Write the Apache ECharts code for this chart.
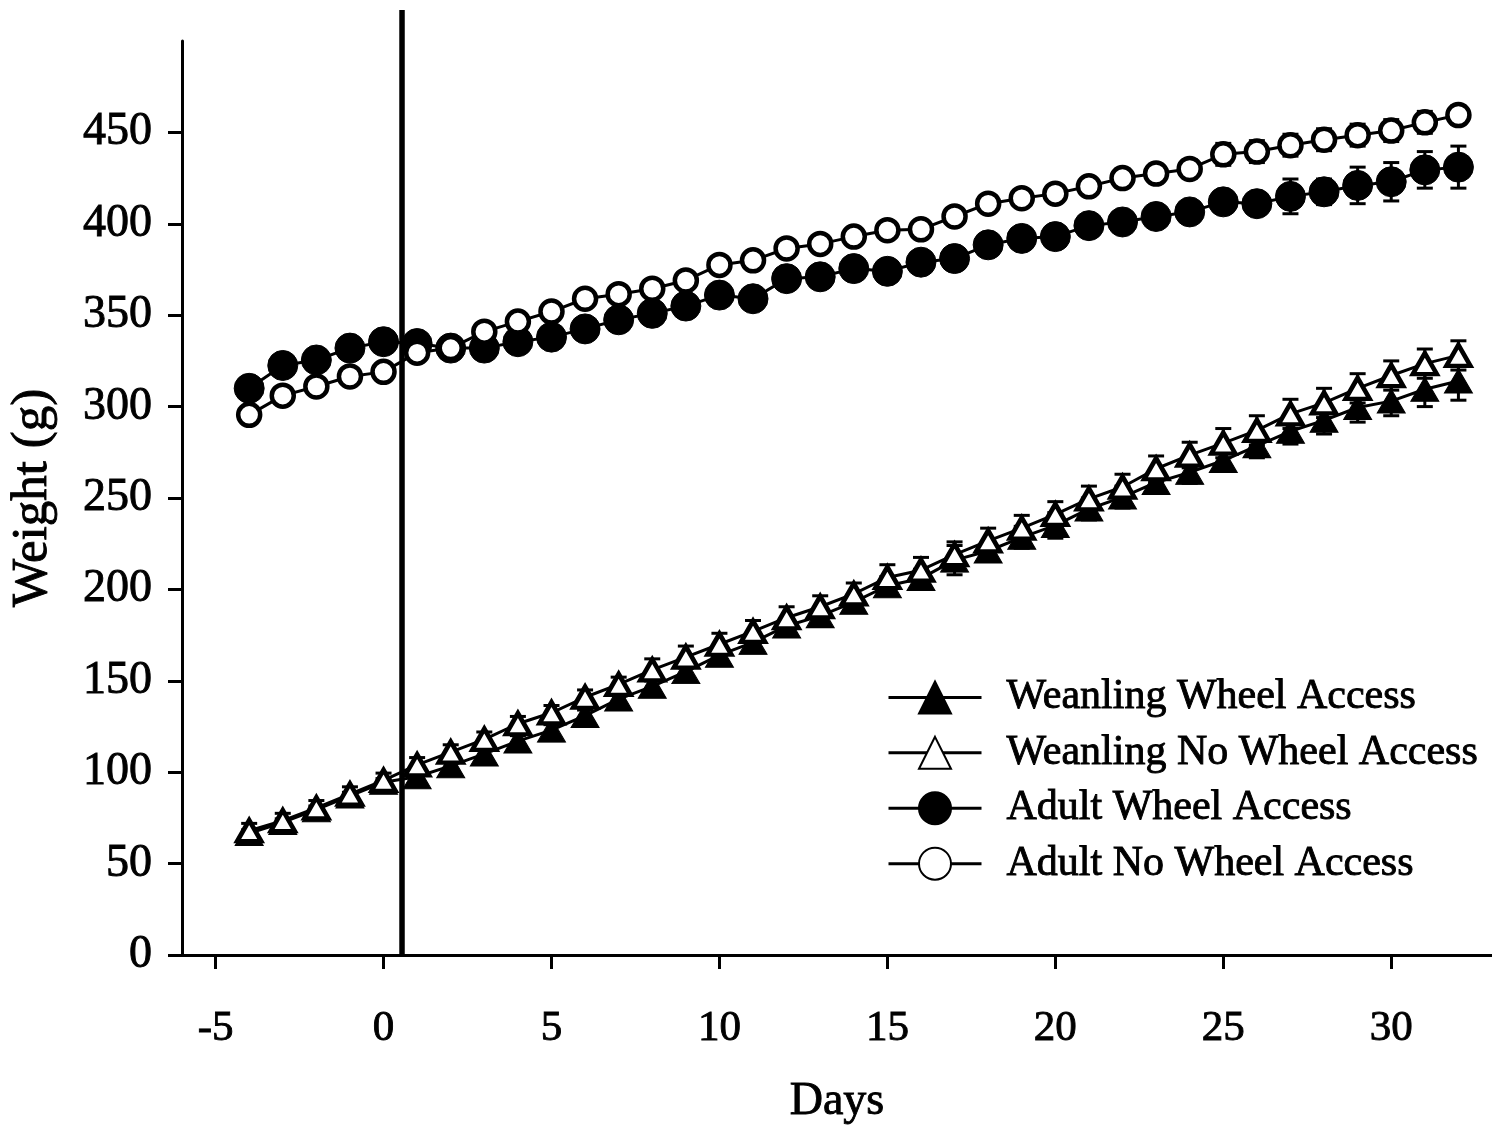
<!DOCTYPE html>
<html>
<head>
<meta charset="utf-8">
<script src="https://cdn.jsdelivr.net/npm/echarts@6/dist/echarts.min.js"></script>
<style>
  html, body { margin: 0; padding: 0; background: #fff; }
  #chart { width: 1492px; height: 1127px; }
</style>
</head>
<body>
<div id="chart"></div>
<script>
// Body weight (g) by day, mean and SEM per group
const days = [-4, -3, -2, -1, 0, 1, 2, 3, 4, 5, 6, 7, 8, 9, 10, 11, 12, 13, 14, 15, 16,
  17, 18, 19, 20, 21, 22, 23, 24, 25, 26, 27, 28, 29, 30, 31, 32];

const weanlingWheel = [66.5, 72.5, 79.5, 87, 94.5, 97.5, 103.5, 110, 117, 123, 131, 140, 147, 155, 164,
  171, 180, 185.5, 193, 202, 206, 216, 221, 228.5, 235, 244, 250.5, 258.5, 264, 270.5, 278.5,
  286.5, 292.5, 299.5, 303, 309.5, 314];
const weanlingWheelSem = [2, 2, 2, 2, 2, 2, 2, 3, 3, 3, 3, 3, 3, 3, 4, 4, 4, 4, 4, 5, 5,
  8, 5, 6, 7, 6, 6, 6, 6, 6, 6.5, 7, 7.5, 8, 8, 9.5, 10.5];

const weanlingNoWheel = [68, 73.5, 80.5, 88, 95.5, 104, 111, 118, 126.5, 132.5, 141, 148, 156, 163, 170,
  177, 184.5, 190.5, 197.5, 206.5, 210.5, 219, 226.5, 233.5, 241, 249.5, 256, 266, 273.5, 280,
  287, 296, 302, 310, 317, 323.5, 328];
const weanlingNoWheelSem = [4, 4, 4, 4, 4, 4, 4, 4, 4, 4, 4, 4, 6, 6, 6, 6, 6, 6, 6, 7, 7,
  7, 7, 7, 7, 7, 7, 7, 7, 8, 8, 8, 8, 8, 8, 8, 8];

const adultWheel = [310, 322.5, 325.5, 332, 335.5, 334.5, 332, 332, 335.5, 338, 342.5, 347.5, 351, 355, 361,
  359, 370, 371, 375.5, 374, 379, 381, 388.5, 392, 393, 399, 401, 404, 406.5, 412, 411,
  415, 417.5, 421, 423, 429.5, 431];
const adultWheelSem = [4, 4, 4, 4, 4, 4, 4, 4, 4, 4, 4, 4, 4, 4, 4, 4, 4, 4, 4, 4, 4,
  4, 4, 4, 4, 6, 6, 6, 6, 6, 6, 9.5, 7, 10, 10.5, 10, 11.5];

const adultNoWheel = [295.5, 306, 311, 316.5, 319, 329.5, 332, 341, 346.5, 352, 359, 361.5, 364.5, 369, 377.5,
  380, 386.5, 389, 393, 396.5, 397, 404, 411, 414, 416.5, 420.5, 425, 427.5, 430, 438, 439.5,
  443, 446, 448.5, 451, 455.5, 459.5];
const adultNoWheelSem = [4, 4, 4, 4, 4, 4, 4, 4, 4, 4, 4, 4, 4, 4, 4, 4, 4, 4, 4, 4, 4,
  4, 4, 4, 4, 4, 5, 5, 5, 6, 6, 6, 6, 6, 6, 6, 5];

// Day the running wheels were introduced, drawn as a tall reference line
const wheelStartDay = 0.55;
const wheelLineRange = [0, 517];

const xTicks = [-5, 0, 5, 10, 15, 20, 25, 30];
const yTicks = [0, 50, 100, 150, 200, 250, 300, 350, 400, 450];

const groupNames = ['Weanling Wheel Access', 'Weanling No Wheel Access', 'Adult Wheel Access', 'Adult No Wheel Access'];

const FONT = "'Liberation Serif', 'Times New Roman', serif";
const INK = '#000';
// slight stroke so the serif glyphs read as heavily as printed type
const TEXT_WEIGHT = { textBorderColor: INK, textBorderWidth: 0.9 };

function pairs(values) {
  return days.map((d, i) => [d, values[i]]);
}

function errorBars(values, sems) {
  return {
    type: 'custom',
    silent: true,
    z: 1,
    data: days.map((d, i) => [d, values[i] - sems[i], values[i] + sems[i]]),
    encode: { x: 0, y: [1, 2] },
    renderItem(params, api) {
      const x = api.value(0);
      const lo = api.coord([x, api.value(1)]);
      const hi = api.coord([x, api.value(2)]);
      const half = 8;
      const style = { stroke: INK, lineWidth: 3 };
      return {
        type: 'group',
        children: [
          { type: 'line', shape: { x1: lo[0], y1: lo[1], x2: hi[0], y2: hi[1] }, style },
          { type: 'line', shape: { x1: lo[0] - half, y1: lo[1], x2: lo[0] + half, y2: lo[1] }, style },
          { type: 'line', shape: { x1: hi[0] - half, y1: hi[1], x2: hi[0] + half, y2: hi[1] }, style }
        ]
      };
    }
  };
}

function lineSeries(name, values, symbol, size, filled) {
  return {
    type: 'line',
    name,
    data: pairs(values),
    symbol,
    symbolSize: size,
    showAllSymbol: true,
    z: 3,
    lineStyle: { color: INK, width: 3 },
    itemStyle: {
      color: filled ? INK : '#fff',
      borderColor: INK,
      borderWidth: filled ? 1 : 4.5
    },
    emphasis: { disabled: true },
    animation: false
  };
}

const chart = echarts.init(document.getElementById('chart'), null, { renderer: 'canvas' });

chart.setOption({
  backgroundColor: '#fff',
  animation: false,
  grid: { left: 182, right: 0, top: 41, bottom: 172, containLabel: false, outerBoundsMode: 'none' },
  legend: {
    orient: 'vertical',
    left: 887,
    top: 676,
    padding: 0,
    itemWidth: 93,
    itemHeight: 40,
    itemGap: 12.5,
    data: groupNames,
    selectedMode: false,
    lineStyle: { width: 3, color: INK },
    textStyle: Object.assign({ fontFamily: FONT, fontSize: 42, color: INK, lineHeight: 42, padding: [0, 0, 0, 20] }, TEXT_WEIGHT)
  },
  xAxis: {
    type: 'value',
    min: -6,
    max: 33,
    name: 'Days',
    nameLocation: 'middle',
    nameGap: 124,
    nameTextStyle: Object.assign({ fontFamily: FONT, fontSize: 46, color: INK }, TEXT_WEIGHT),
    axisLine: { onZero: false, lineStyle: { color: INK, width: 3 } },
    axisTick: { show: true, length: 14, lineStyle: { color: INK, width: 3 }, customValues: xTicks },
    axisLabel: Object.assign({ fontFamily: FONT, fontSize: 43, color: INK, margin: 52, customValues: xTicks }, TEXT_WEIGHT),
    splitLine: { show: false }
  },
  yAxis: {
    type: 'value',
    min: 0,
    max: 500,
    name: 'Weight (g)',
    nameLocation: 'middle',
    nameGap: 124,
    nameTextStyle: Object.assign({ fontFamily: FONT, fontSize: 51, color: INK }, TEXT_WEIGHT),
    axisLine: { show: true, onZero: false, lineStyle: { color: INK, width: 3 } },
    axisTick: { show: true, length: 14, lineStyle: { color: INK, width: 3 }, customValues: yTicks },
    axisLabel: Object.assign({ fontFamily: FONT, fontSize: 46, color: INK, margin: 30, customValues: yTicks }, TEXT_WEIGHT),
    splitLine: { show: false }
  },
  series: [
    errorBars(weanlingWheel, weanlingWheelSem),
    errorBars(weanlingNoWheel, weanlingNoWheelSem),
    errorBars(adultWheel, adultWheelSem),
    errorBars(adultNoWheel, adultNoWheelSem),
    lineSeries(groupNames[0], weanlingWheel, 'triangle', [28, 24], true),
    lineSeries(groupNames[1], weanlingNoWheel, 'triangle', [24, 21], false),
    lineSeries(groupNames[2], adultWheel, 'circle', 30, true),
    lineSeries(groupNames[3], adultNoWheel, 'circle', 22, false),
    {
      type: 'line',
      name: 'wheel start',
      data: [[wheelStartDay, wheelLineRange[0]], [wheelStartDay, wheelLineRange[1]]],
      symbol: 'none',
      clip: false,
      z: 4,
      silent: true,
      lineStyle: { color: INK, width: 5.5 },
      animation: false
    }
  ]
});
</script>
</body>
</html>
